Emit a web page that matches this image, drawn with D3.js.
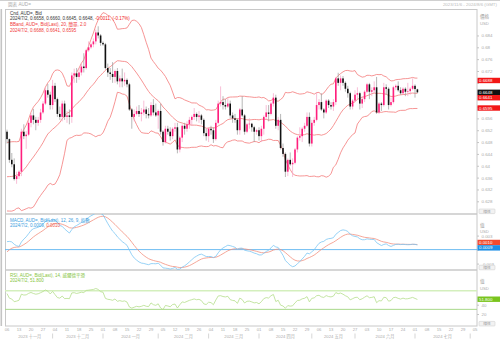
<!DOCTYPE html>
<html>
<head>
<meta charset="utf-8">
<script src="https://cdn.jsdelivr.net/npm/d3@7"></script>
<style>
  body { margin: 0; background: #fff; }
  svg { display: block; font-family: "Liberation Sans", Arial, "Noto Sans CJK TC", sans-serif; }
</style>
</head>
<body>
<div id="chart"></div>
<script>
// closes before the visible range (Aug 7 - Nov 3 2023), only used to warm up the indicators
const priorCloses = [
  .6575, .6520, .6530, .6525, .6500, .6475, .6435, .6395, .6400, .6405,
  .6415, .6445, .6480, .6430, .6415, .6430, .6485, .6490, .6475, .6445,
  .6460, .6365, .6375, .6380, .6380, .6410, .6410, .6420, .6440, .6430,
  .6440, .6455, .6405, .6415, .6430, .6415, .6370, .6345, .6405, .6430,
  .6350, .6285, .6320, .6335, .6385, .6380, .6410, .6395, .6325, .6305,
  .6350, .6370, .6310, .6320, .6310, .6345, .6345, .6315, .6320, .6340,
  .6345, .6345, .6365, .6440, .6515
];

// daily candles, one per weekday from 2023/11/6 to 2024/7/2: open, high, low, close
const candles = [
  [.6515,.6522,.6475,.6490],[.6490,.6492,.6410,.6420],[.6420,.6443,.6395,.6405],[.6405,.6425,.6350,.6355],[.6355,.6380,.6339,.6365],
  [.6365,.6385,.6355,.6380],[.6380,.6525,.6365,.6515],[.6515,.6540,.6490,.6500],[.6500,.6517,.6457,.6505],[.6505,.6555,.6500,.6545],
  [.6545,.6578,.6530,.6570],[.6570,.6592,.6540,.6555],[.6555,.6565,.6520,.6545],[.6545,.6565,.6535,.6555],[.6555,.6592,.6545,.6580],
  [.6580,.6618,.6575,.6610],[.6610,.6664,.6605,.6655],[.6655,.6676,.6630,.6640],[.6640,.6650,.6590,.6605],[.6605,.6690,.6590,.6670],
  [.6670,.6680,.6615,.6625],[.6625,.6630,.6565,.6575],[.6575,.6600,.6555,.6565],[.6565,.6620,.6550,.6610],[.6610,.6620,.6555,.6565],
  [.6565,.6585,.6545,.6570],[.6570,.6590,.6540,.6565],[.6565,.6715,.6545,.6705],[.6705,.6728,.6680,.6712],[.6712,.6730,.6680,.6700],
  [.6700,.6730,.6690,.6715],[.6715,.6745,.6705,.6735],[.6735,.6780,.6715,.6730],[.6730,.6795,.6725,.6790],[.6790,.6820,.6785,.6800],
  [.6800,.6815,.6795,.6810],[.6810,.6830,.6800,.6820],[.6820,.6860,.6810,.6850],[.6850,.6871,.6830,.6840],[.6840,.6845,.6805,.6815],
  [.6815,.6820,.6805,.6810],[.6810,.6815,.6725,.6730],[.6730,.6745,.6700,.6715],[.6715,.6730,.6690,.6710],[.6710,.6750,.6680,.6700],
  [.6700,.6725,.6680,.6720],[.6720,.6730,.6675,.6685],[.6685,.6705,.6665,.6695],[.6695,.6728,.6665,.6685],[.6685,.6715,.6670,.6690],
  [.6690,.6695,.6665,.6675],[.6675,.6680,.6585,.6590],[.6590,.6595,.6525,.6565],[.6565,.6590,.6550,.6575],[.6575,.6600,.6570,.6585],
  [.6585,.6605,.6565,.6575],[.6575,.6595,.6550,.6580],[.6580,.6620,.6570,.6590],[.6590,.6600,.6560,.6575],[.6575,.6595,.6560,.6570],
  [.6570,.6615,.6565,.6605],[.6605,.6625,.6570,.6580],[.6580,.6610,.6565,.6570],[.6570,.6590,.6525,.6585],[.6585,.6610,.6505,.6515],
  [.6515,.6520,.6468,.6480],[.6480,.6535,.6475,.6525],[.6525,.6535,.6505,.6515],[.6515,.6530,.6485,.6500],[.6500,.6530,.6490,.6525],
  [.6525,.6545,.6515,.6530],[.6530,.6545,.6442,.6455],[.6455,.6500,.6445,.6495],[.6495,.6540,.6480,.6535],[.6535,.6545,.6505,.6525],
  [.6525,.6550,.6515,.6540],[.6540,.6565,.6525,.6555],[.6555,.6570,.6535,.6565],[.6565,.6595,.6555,.6575],[.6575,.6580,.6550,.6565],
  [.6565,.6585,.6545,.6570],[.6570,.6575,.6540,.6555],[.6555,.6560,.6500,.6510],[.6510,.6525,.6485,.6500],[.6500,.6530,.6480,.6525],
  [.6525,.6535,.6505,.6520],[.6520,.6530,.6477,.6490],[.6490,.6555,.6485,.6545],[.6545,.6620,.6540,.6610],[.6610,.6668,.6600,.6615],
  [.6615,.6635,.6590,.6605],[.6605,.6625,.6590,.6600],[.6600,.6630,.6595,.6610],[.6610,.6620,.6560,.6570],[.6570,.6580,.6545,.6560],
  [.6560,.6575,.6545,.6555],[.6555,.6560,.6505,.6520],[.6520,.6595,.6505,.6590],[.6590,.6635,.6565,.6570],[.6570,.6575,.6505,.6515],
  [.6515,.6545,.6510,.6540],[.6540,.6560,.6525,.6542],[.6542,.6545,.6515,.6530],[.6530,.6535,.6480,.6515],[.6515,.6525,.6505,.6520],
  [.6520,.6530,.6485,.6500],[.6500,.6535,.6480,.6525],[.6525,.6570,.6505,.6565],[.6565,.6605,.6555,.6580],[.6580,.6605,.6550,.6575],
  [.6575,.6615,.6570,.6610],[.6610,.6645,.6600,.6630],[.6630,.6640,.6525,.6535],[.6535,.6565,.6520,.6555],[.6555,.6575,.6455,.6460],
  [.6460,.6475,.6430,.6440],[.6440,.6445,.6362,.6380],[.6380,.6425,.6365,.6420],[.6420,.6445,.6400,.6405],[.6405,.6425,.6362,.6410],
  [.6410,.6460,.6405,.6455],[.6455,.6500,.6445,.6495],[.6495,.6530,.6485,.6500],[.6500,.6530,.6480,.6525],[.6525,.6545,.6515,.6535],
  [.6535,.6580,.6530,.6565],[.6565,.6580,.6465,.6475],[.6475,.6555,.6465,.6545],[.6545,.6565,.6535,.6555],[.6555,.6648,.6550,.6605],
  [.6605,.6625,.6590,.6615],[.6615,.6645,.6585,.6590],[.6590,.6595,.6560,.6580],[.6580,.6625,.6575,.6620],[.6620,.6625,.6595,.6605],
  [.6605,.6615,.6590,.6600],[.6600,.6625,.6585,.6615],[.6615,.6700,.6605,.6695],[.6695,.6714,.6670,.6680],[.6680,.6705,.6655,.6695],
  [.6695,.6703,.6670,.6680],[.6680,.6685,.6650,.6660],[.6660,.6670,.6630,.6645],[.6645,.6650,.6590,.6600],[.6600,.6625,.6590,.6620],
  [.6620,.6655,.6615,.6640],[.6640,.6665,.6625,.6645],[.6645,.6650,.6590,.6610],[.6610,.6635,.6595,.6625],[.6625,.6655,.6615,.6650],
  [.6650,.6680,.6645,.6675],[.6675,.6680,.6625,.6650],[.6650,.6665,.6635,.6655],[.6655,.6685,.6645,.6665],[.6665,.6700,.6575,.6580],
  [.6580,.6615,.6575,.6610],[.6610,.6615,.6585,.6605],[.6605,.6680,.6600,.6665],[.6665,.6675,.6640,.6660],[.6660,.6665,.6590,.6605],
  [.6605,.6630,.6600,.6615],[.6615,.6670,.6610,.6665],[.6665,.6675,.6655,.6670],[.6670,.6685,.6650,.6655],[.6655,.6665,.6640,.6645],
  [.6645,.6665,.6640,.6660],[.6660,.6665,.6635,.6650],[.6650,.6680,.6635,.6652],[.6652,.6665,.6640,.6660],[.6660,.6695,.6655,.6670],
  [.6670,.6675,.6630,.6659],[.6658,.6660,.6645,.6648]
];

// last values as printed in the legends
const lastBands = [0.6688, 0.6641, 0.6595];
const lastClose = 0.6648;
const lastMacd = 0.0009, lastSignal = 0.0010;
const lastRsi = 51.8;

// x axis: one label per Monday, months below
const weekLabels = ["06","13","20","27","04","11","18","25","01","08","15","22","29","05","12","19","26",
  "04","11","18","25","01","08","15","22","29","06","13","20","27","03","10","17","24","01","08","15","22","29","05"];
const monthLabels = ["2023 十一月","2023 十二月","2024 一月","2024 二月","2024 三月","2024 四月","2024 五月","2024 六月","2024 七月"];
const monthStarts = [0, 19, 40, 63, 84, 105, 127, 145, 170, 193]; // weekday index of each month's first trading day

const priceTicks = [0.628,0.632,0.636,0.64,0.644,0.648,0.652,0.656,0.66,0.664,0.668,0.672,0.676,0.68,0.684];
const macdTicks = [-0.003, 0, 0.003];
const rsiTicks = [20, 40];

const W = 500, H = 340;
const L = 5, R = 477;
const panels = { price: [9, 214], macd: [214, 270], rsi: [270, 326] };

const svg = d3.select("#chart").append("svg").attr("width", W).attr("height", H);

const x = d3.scaleLinear().domain([0, 195]).range([7, 475]);
const yP = d3.scaleLinear().domain([0.628, 0.672]).range([201.3, 71]);
const yM = d3.scaleLinear().domain([-0.003, 0.003]).range([263.6, 235.6]);
const yR = d3.scaleLinear().domain([0, 100]).range([323.3, 276.8]);

// ---- indicators ----
const closes = priorCloses.concat(candles.map(d => d[3]));
const off = priorCloses.length;

const bands = candles.map((d, i) => {
  const w = closes.slice(off + i - 19, off + i + 1);
  const m = d3.mean(w);
  const s = Math.sqrt(d3.mean(w, v => (v - m) ** 2));
  return { i, mid: m, up: m + 2 * s, lo: m - 2 * s };
});

function ema(a, n) {
  const k = 2 / (n + 1), o = [a[0]];
  for (let i = 1; i < a.length; i++) o.push(a[i] * k + o[i - 1] * (1 - k));
  return o;
}
const e12 = ema(closes, 12), e26 = ema(closes, 26);
const macdAll = closes.map((c, i) => e12[i] - e26[i]);
const sigAll = ema(macdAll, 9);

const rsiAll = [];
let ag = 0, al = 0;
for (let i = 1; i < closes.length; i++) {
  const ch = closes[i] - closes[i - 1];
  const g = Math.max(ch, 0), l = Math.max(-ch, 0);
  if (i <= 14) { ag += g / 14; al += l / 14; }
  else { ag = (ag * 13 + g) / 14; al = (al * 13 + l) / 14; }
  rsiAll[i] = 100 - 100 / (1 + ag / al);
}
const ind = candles.map((d, i) => ({ i, macd: macdAll[off + i], sig: sigAll[off + i], rsi: rsiAll[off + i] }));

// ---- frame ----
const defs = svg.append("defs");
Object.entries(panels).forEach(([k, p]) => {
  defs.append("clipPath").attr("id", "clip-" + k)
    .append("rect").attr("x", L).attr("y", p[0]).attr("width", R - L).attr("height", p[1] - p[0]);
});

svg.append("line").attr("x1", 0).attr("x2", W).attr("y1", 0.5).attr("y2", 0.5).attr("stroke", "#d0d0d0");
svg.append("text").attr("x", 8).attr("y", 5.8).attr("font-size", 4.6).attr("fill", "#aaa").text("圖表 AUD=");
svg.append("text").attr("x", 497).attr("y", 6.3).attr("font-size", 4.4).attr("fill", "#bbb")
  .attr("text-anchor", "end").text("2023/11/6 - 2024/8/6 (GMT)");

svg.append("rect").attr("x", 0.5).attr("y", 9).attr("width", 1.6).attr("height", 317).attr("fill", "#c4c4c4");
svg.append("rect").attr("x", L + 0.5).attr("y", 9.5).attr("width", R - L - 0.5).attr("height", 316.5)
  .attr("fill", "none").attr("stroke", "#c8c8c8");
[214, 270].forEach(y => svg.append("line").attr("x1", L).attr("x2", R).attr("y1", y).attr("y2", y)
  .attr("stroke", "#c8c8c8").attr("stroke-width", 1.5));

// ---- price panel ----
const gP = svg.append("g").attr("clip-path", "url(#clip-price)");
const bandLine = key => d3.line().x(d => x(d.i)).y(d => yP(d[key]));
["up", "mid", "lo"].forEach(k => gP.append("path").datum(bands).attr("d", bandLine(k))
  .attr("fill", "none").attr("stroke", "#f47a7a").attr("stroke-width", 0.8));

const up = d => d[3] >= d[0];
const cg = gP.append("g").selectAll("g").data(candles).join("g");
cg.append("line")
  .attr("x1", (d, i) => x(i)).attr("x2", (d, i) => x(i))
  .attr("y1", d => yP(d[1])).attr("y2", d => yP(d[2]))
  .attr("stroke", d => up(d) ? "#f7a3c6" : "#9a9a9a").attr("stroke-width", 0.7);
cg.append("rect")
  .attr("x", (d, i) => x(i) - 0.8).attr("width", 1.6)
  .attr("y", d => yP(Math.max(d[0], d[3])))
  .attr("height", d => Math.max(0.6, Math.abs(yP(d[0]) - yP(d[3]))))
  .attr("fill", d => up(d) ? "#ff1f7d" : "#111");

// ---- MACD panel ----
const gM = svg.append("g").attr("clip-path", "url(#clip-macd)");
gM.append("line").attr("x1", L).attr("x2", R).attr("y1", yM(0)).attr("y2", yM(0))
  .attr("stroke", "#5eb6f0").attr("stroke-width", 0.9);
gM.append("path").datum(ind).attr("d", d3.line().x(d => x(d.i)).y(d => yM(d.sig)))
  .attr("fill", "none").attr("stroke", "#f3907f").attr("stroke-width", 0.8);
gM.append("path").datum(ind).attr("d", d3.line().x(d => x(d.i)).y(d => yM(d.macd)))
  .attr("fill", "none").attr("stroke", "#7cc6f4").attr("stroke-width", 0.8);

// ---- RSI panel ----
const gR = svg.append("g").attr("clip-path", "url(#clip-rsi)");
gR.append("line").attr("x1", L).attr("x2", R).attr("y1", yR(70)).attr("y2", yR(70))
  .attr("stroke", "#d4efbd").attr("stroke-width", 1.6);
gR.append("line").attr("x1", L).attr("x2", R).attr("y1", yR(30)).attr("y2", yR(30))
  .attr("stroke", "#a8d98a").attr("stroke-width", 1);
gR.append("path").datum(ind).attr("d", d3.line().x(d => x(d.i)).y(d => yR(d.rsi)))
  .attr("fill", "none").attr("stroke", "#b5de8c").attr("stroke-width", 0.8);

// ---- right axes + value tags ----
const TAG_H = 5.4;
function tags(list, centre) {
  list.forEach(d => d.y = d.scale(d.v));
  list.sort((a, b) => a.y - b.y);
  let push = 0;
  for (let k = 1; k < list.length; k++) {
    if (list[k].y - list[k - 1].y < TAG_H) { push += list[k - 1].y + TAG_H - list[k].y; list[k].y = list[k - 1].y + TAG_H; }
  }
  if (centre) list.forEach(d => d.y -= push / 2);
  return list;
}

function rightAxis(scale, ticks, fmt, tagList) {
  const g = svg.append("g").attr("transform", `translate(${R},0)`)
    .call(d3.axisRight(scale).tickValues(ticks).tickFormat(fmt).tickSize(2).tickPadding(2.5));
  g.select(".domain").remove();
  g.selectAll("line").attr("stroke", "#c4c4c4");
  g.selectAll("text").attr("fill", "#aaa").attr("font-size", 4.4);
  // labels hidden behind a value tag are not shown
  g.selectAll(".tick").each(function (d) {
    if (tagList.some(t => Math.abs(t.y - scale(d)) < TAG_H / 2 + 2)) d3.select(this).select("text").remove();
  });
  const tg = svg.append("g").selectAll("g").data(tagList).join("g").attr("transform", d => `translate(${R},${d.y})`);
  tg.append("rect").attr("x", 0.5).attr("y", -TAG_H / 2).attr("width", 23).attr("height", TAG_H).attr("fill", d => d.bg);
  tg.append("text").attr("x", 2).attr("dy", "0.36em").attr("font-size", 4.4).attr("fill", "#fff").text(d => d.t);
}

rightAxis(yP, priceTicks, d => String(+d.toFixed(3)), tags([
  { v: lastBands[0], t: lastBands[0].toFixed(4), bg: "#f21616", scale: yP },
  { v: lastClose, t: lastClose.toFixed(4), bg: "#111", scale: yP },
  { v: lastBands[1], t: lastBands[1].toFixed(4), bg: "#f21616", scale: yP },
  { v: lastBands[2], t: lastBands[2].toFixed(4), bg: "#f21616", scale: yP }
], false));
rightAxis(yM, macdTicks, d => String(+d.toFixed(3)), tags([
  { v: lastSignal, t: lastSignal.toFixed(4), bg: "#f24a2e", scale: yM },
  { v: lastMacd, t: lastMacd.toFixed(4), bg: "#1d8fe6", scale: yM }
], true));
rightAxis(yR, rsiTicks, d => String(d), tags([
  { v: lastRsi, t: lastRsi.toFixed(3), bg: "#79c41e", scale: yR }
], false));

function axisHead(y, a, b) {
  svg.append("text").attr("x", 480).attr("y", y).attr("font-size", 4.6).attr("fill", "#999").text(a);
  svg.append("text").attr("x", 480).attr("y", y + 6.5).attr("font-size", 4.2).attr("fill", "#aaa").text(b);
}
axisHead(18.3, "價格", "USD");
axisHead(226.5, "值", "USD");
axisHead(283, "值", "USD");

function scaleBox(y) {
  svg.append("rect").attr("x", 479).attr("y", y - 4.6).attr("width", 16).attr("height", 4.6).attr("rx", 0.8)
    .attr("fill", "#f2f2f2").attr("stroke", "#c8c8c8").attr("stroke-width", 0.5);
  svg.append("text").attr("x", 487).attr("y", y - 1.0).attr("text-anchor", "middle")
    .attr("font-size", 3.8).attr("fill", "#999").text("線性");
}
[213.6, 269.8, 326].forEach(scaleBox);

// ---- bottom axis ----
const xa = svg.append("g").attr("font-size", 4.2).attr("fill", "#aaa").attr("text-anchor", "middle");
xa.selectAll(".wk").data(weekLabels).join("text").attr("class", "wk")
  .attr("x", (d, i) => x(i * 5)).attr("y", 331.3).text(d => d);
xa.selectAll(".mo").data(monthLabels).join("text").attr("class", "mo")
  .attr("x", (d, i) => (Math.max(L, x(monthStarts[i])) + Math.min(R, x(monthStarts[i + 1]))) / 2)
  .attr("y", 337.8).text(d => d);
svg.append("g").selectAll("line").data(monthStarts.slice(1)).join("line")
  .attr("x1", d => x(d)).attr("x2", d => x(d)).attr("y1", 333.5).attr("y2", 338.5)
  .attr("stroke", "#bbb").attr("stroke-width", 0.6);

// ---- legends ----
function legendLine(y, parts) {
  const t = svg.append("text").attr("x", 10).attr("y", y).attr("font-size", 4.5);
  parts.forEach(p => t.append("tspan").attr("fill", p[1]).text(p[0]));
}
legendLine(14.5, [["Cnd, AUD=, Bid", "#333"]]);
legendLine(20.3, [["2024/7/2, 0.6658, 0.6660, 0.6645, 0.6648, ", "#333"], ["-0.0011, (-0.17%)", "#f02020"]]);
legendLine(26.0, [["BBand, AUD=, Bid(Last), 20, 簡單, 2.0", "#f03a3a"]]);
legendLine(31.5, [["2024/7/2, 0.6688, 0.6641, 0.6595", "#f03a3a"]]);

legendLine(221.6, [["MACD, AUD=, Bid(Last), 12, 26, 9, 指數", "#3c9ede"]]);
legendLine(226.8, [["2024/7/2, 0.0009, ", "#3c9ede"], ["0.0010", "#f05a4a"]]);

legendLine(277.3, [["RSI, AUD=, Bid(Last), 14, 威爾德平滑", "#86c43c"]]);
legendLine(282.3, [["2024/7/2, 51.800", "#86c43c"]]);
</script>
</body>
</html>
